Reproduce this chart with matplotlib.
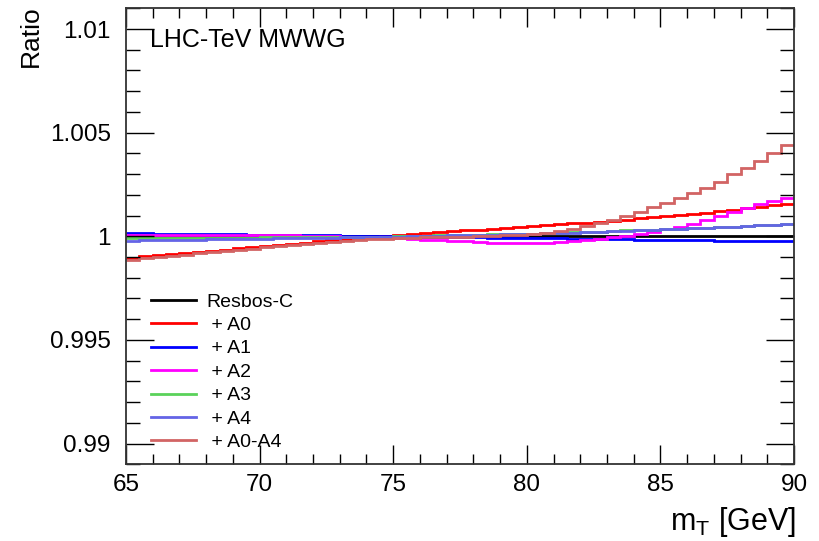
import numpy as np
import matplotlib
matplotlib.use("Agg")
import matplotlib.pyplot as plt
from matplotlib.ticker import MultipleLocator, FixedLocator

plt.rcParams['font.family'] = ['Liberation Sans', 'DejaVu Sans']

bin_edges = [65.0 + 0.5 * i for i in range(51)]

resbos_c = [1.0] * 50

a0 = [0.99897, 0.99903, 0.99908, 0.99914, 0.99919, 0.99925, 0.99931, 0.99936, 0.99942, 0.99947,
      0.99953, 0.99959, 0.99964, 0.99970, 0.99975, 0.99981, 0.99987, 0.99992, 0.99998, 1.00003,
      1.00008, 1.00012, 1.00016, 1.00020, 1.00024, 1.00028, 1.00032, 1.00036, 1.00040, 1.00044,
      1.00048, 1.00053, 1.00057, 1.00062, 1.00066, 1.00071, 1.00076, 1.00081, 1.00086, 1.00091,
      1.00096, 1.00102, 1.00108, 1.00114, 1.00121, 1.00128, 1.00135, 1.00142, 1.00150, 1.00158]

a1 = [1.00015, 1.00014, 1.00013, 1.00013, 1.00012, 1.00011, 1.00010, 1.00010, 1.00009, 1.00008,
      1.00007, 1.00007, 1.00006, 1.00005, 1.00004, 1.00004, 1.00003, 1.00002, 1.00001, 1.00001,
      1.00000, 0.99999, 0.99998, 0.99997, 0.99997, 0.99996, 0.99995, 0.99994, 0.99993, 0.99992,
      0.99991, 0.99990, 0.99990, 0.99989, 0.99988, 0.99987, 0.99986, 0.99985, 0.99984, 0.99983,
      0.99983, 0.99982, 0.99981, 0.99980, 0.99979, 0.99978, 0.99977, 0.99976, 0.99976, 0.99975]

a2 = [1.00006, 1.00007, 1.00007, 1.00008, 1.00008, 1.00008, 1.00008, 1.00008, 1.00007, 1.00007,
      1.00006, 1.00005, 1.00004, 1.00003, 1.00002, 1.00001, 0.99999, 0.99997, 0.99995, 0.99993,
      0.99990, 0.99987, 0.99984, 0.99981, 0.99978, 0.99975, 0.99972, 0.99970, 0.99968, 0.99967,
      0.99968, 0.99970, 0.99973, 0.99977, 0.99982, 0.99988, 0.99995, 1.00003, 1.00012, 1.00022,
      1.00033, 1.00046, 1.00060, 1.00078, 1.00098, 1.00118, 1.00138, 1.00156, 1.00172, 1.00187]

a3 = [0.99990, 0.99990, 0.99991, 0.99991, 0.99992, 0.99992, 0.99993, 0.99993, 0.99994, 0.99994,
      0.99995, 0.99995, 0.99996, 0.99996, 0.99997, 0.99997, 0.99998, 0.99998, 0.99999, 0.99999,
      1.00000, 1.00001, 1.00003, 1.00004, 1.00005, 1.00006, 1.00008, 1.00009, 1.00010, 1.00012,
      1.00013, 1.00015, 1.00017, 1.00019, 1.00021, 1.00023, 1.00025, 1.00028, 1.00030, 1.00032,
      1.00035, 1.00037, 1.00040, 1.00042, 1.00045, 1.00047, 1.00050, 1.00053, 1.00056, 1.00059]

a4 = [0.99979, 0.99980, 0.99981, 0.99982, 0.99983, 0.99984, 0.99985, 0.99986, 0.99987, 0.99988,
      0.99989, 0.99990, 0.99991, 0.99992, 0.99993, 0.99994, 0.99995, 0.99996, 0.99997, 0.99998,
      0.99999, 1.00000, 1.00001, 1.00003, 1.00004, 1.00005, 1.00007, 1.00008, 1.00009, 1.00011,
      1.00012, 1.00014, 1.00016, 1.00018, 1.00020, 1.00022, 1.00024, 1.00027, 1.00029, 1.00031,
      1.00034, 1.00036, 1.00039, 1.00041, 1.00044, 1.00047, 1.00050, 1.00053, 1.00056, 1.00059]

a0_a4 = [0.99888, 0.99894, 0.99900, 0.99906, 0.99912, 0.99918, 0.99923, 0.99929, 0.99935, 0.99941,
         0.99947, 0.99953, 0.99958, 0.99963, 0.99968, 0.99973, 0.99977, 0.99981, 0.99985, 0.99988,
         0.99991, 0.99993, 0.99995, 0.99997, 0.99998, 0.99999, 1.00000, 1.00002, 1.00004, 1.00007,
         1.00011, 1.00018, 1.00026, 1.00036, 1.00048, 1.00063, 1.00080, 1.00098, 1.00118, 1.00140,
         1.00163, 1.00187, 1.00211, 1.00235, 1.00264, 1.00300, 1.00331, 1.00364, 1.00401, 1.00441]

labels = ["Resbos-C", " + A0", " + A1", " + A2", " + A3", " + A4", " + A0-A4"]
colors = ["#000000", "#ff0000", "#0000ff", "#ff00ff", "#5ad25a", "#6464e6", "#d26464"]
series = [resbos_c, a0, a1, a2, a3, a4, a0_a4]

fig = plt.figure(figsize=(8.19, 5.41), dpi=100)
ax = fig.add_axes([126 / 819, 1 - 464.3 / 541, (794 - 126) / 819, (464.3 - 8.3) / 541])

for vals, col, lab in zip(series, colors, labels):
    ax.stairs(vals, bin_edges, color=col, lw=2.0, label=lab, baseline=None)

ax.set_xlim(65, 90)
ax.set_ylim(0.989, 1.011)

ax.xaxis.set_major_locator(FixedLocator([65, 70, 75, 80, 85, 90]))
ax.xaxis.set_minor_locator(MultipleLocator(1))
ax.yaxis.set_major_locator(FixedLocator([0.99, 0.995, 1.0, 1.005, 1.01]))
ax.yaxis.set_minor_locator(MultipleLocator(0.001))
ax.set_xticklabels(["65", "70", "75", "80", "85", "90"])
ax.set_yticklabels(["0.99", "0.995", "1", "1.005", "1.01"])

ax.tick_params(axis='both', which='both', direction='in', top=True, right=True,
               colors='#000000', labelsize=17.5, width=1.0)
ax.tick_params(axis='y', which='major', length=20, pad=11)
ax.tick_params(axis='y', which='minor', length=10)
ax.tick_params(axis='x', which='major', length=14, pad=7)
ax.tick_params(axis='x', which='minor', length=7)
for sp in ax.spines.values():
    sp.set_linewidth(1.3)
    sp.set_color('#333333')

fig.text(31 / 819, 1 - 5 / 541, "Ratio", rotation=90, ha='center', va='top', fontsize=19)
fig.text(796 / 819, 1 - 539 / 541, r"m$_{\mathregular{T}}$ [GeV]", ha='right', va='bottom', fontsize=22)

ax.text(150 / 819, 1 - 40 / 541, "LHC-TeV MWWG", transform=fig.transFigure,
        ha='left', va='center', fontsize=18)

leg = ax.legend(loc='upper left', bbox_to_anchor=(151 / 819, 1 - 293 / 541),
                bbox_transform=fig.transFigure, frameon=False, fontsize=14,
                handlelength=2.3, handletextpad=0.55, labelspacing=0.3,
                borderpad=0.0, borderaxespad=0.0)

fig.savefig("out.png", dpi=100)
